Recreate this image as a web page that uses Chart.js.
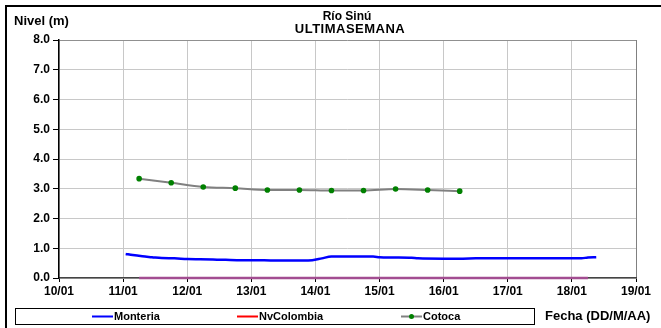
<!DOCTYPE html>
<html lang="es">
<head>
    <meta charset="UTF-8">
    <title>Río Sinú - Ultima semana</title>
    <style>
        body {
            margin: 0;
            padding: 0;
            background-color: #fff;
        }

        .chart-container {
            position: relative;
            width: 661px;
            height: 328px;
        }
    </style>
    <script src="https://cdn.jsdelivr.net/npm/chart.js"></script>
</head>
<body>
    <div class="chart-container">
        <canvas id="nivelChart" width="661" height="328"></canvas>
    </div>

    <script>
        // Datos (dia de enero, nivel en m)
        const fechas = ['10/01', '11/01', '12/01', '13/01', '14/01', '15/01', '16/01', '17/01', '18/01', '19/01'];

        const monteriaDias = [11.04, 11.15, 11.3, 11.45, 11.6, 11.8, 12.0, 12.2, 12.4, 12.6, 12.85, 13.1, 13.3, 13.5, 13.8, 13.95, 14.1, 14.25, 14.5, 14.9, 15.0, 15.2, 15.5, 15.6, 16.0, 16.3, 16.5, 17.0, 17.5, 18.0, 18.15, 18.25, 18.38];
        const monteriaNivel = [0.81, 0.77, 0.73, 0.70, 0.67, 0.66, 0.64, 0.63, 0.62, 0.61, 0.60, 0.60, 0.59, 0.59, 0.59, 0.60, 0.66, 0.72, 0.72, 0.72, 0.70, 0.69, 0.68, 0.66, 0.65, 0.65, 0.66, 0.66, 0.66, 0.66, 0.66, 0.69, 0.70];

        const nvColombiaDias = [11.25, 18.25];
        const nvColombiaNivel = [0, 0];

        const cotocaDias = [11.25, 11.75, 12.25, 12.75, 13.25, 13.75, 14.25, 14.75, 15.25, 15.75, 16.25];
        const cotocaNivel = [3.34, 3.20, 3.06, 3.02, 2.96, 2.96, 2.94, 2.94, 2.99, 2.96, 2.92];

        const FUENTE = "'Liberation Sans', Arial, sans-serif";

        function puntos(dias, niveles) {
            return dias.map((d, i) => ({ x: d, y: niveles[i] }));
        }

        // Marco, titulos y leyenda dibujados a mano (estilo Excel)
        const decoracion = {
            id: 'decoracion',
            afterDraw(chart) {
                const ctx = chart.ctx;
                ctx.save();

                // marco exterior
                ctx.fillStyle = '#000';
                ctx.fillRect(5, 5, 2, 323);
                ctx.fillRect(5, 5, 656, 2);

                ctx.textBaseline = 'middle';
                ctx.fillStyle = '#000';

                ctx.font = 'bold 13px ' + FUENTE;
                ctx.textAlign = 'left';
                ctx.fillText('Nivel (m)', 14, 21);

                ctx.textAlign = 'center';
                ctx.font = 'bold 12px ' + FUENTE;
                ctx.fillText('Río Sinú', 347, 17);
                ctx.font = 'bold 13px ' + FUENTE;
                ctx.letterSpacing = '0.5px';
                ctx.fillText('ULTIMASEMANA', 350, 29);
                ctx.letterSpacing = '0px';

                ctx.textAlign = 'left';
                ctx.font = 'bold 13px ' + FUENTE;
                ctx.fillText('Fecha (DD/M/AA)', 545, 316);

                // caja de leyenda
                ctx.strokeStyle = '#000';
                ctx.lineWidth = 1;
                ctx.strokeRect(15.5, 308.5, 519, 16);

                const items = [
                    { texto: chart.data.datasets[0].label, color: '#0000ff', x: 92 },
                    { texto: chart.data.datasets[1].label, color: '#ff0000', x: 237 },
                    { texto: chart.data.datasets[2].label, color: '#808080', x: 401, marca: '#008000' }
                ];
                ctx.font = 'bold 11px ' + FUENTE;
                items.forEach(it => {
                    ctx.strokeStyle = it.color;
                    ctx.lineWidth = 2;
                    ctx.beginPath();
                    ctx.moveTo(it.x, 316.5);
                    ctx.lineTo(it.x + 21, 316.5);
                    ctx.stroke();
                    if (it.marca) {
                        ctx.fillStyle = it.marca;
                        ctx.beginPath();
                        ctx.arc(it.x + 10.5, 316.5, 2.5, 0, Math.PI * 2);
                        ctx.fill();
                    }
                    ctx.fillStyle = '#000';
                    ctx.fillText(it.texto, it.x + 22, 317);
                });

                ctx.restore();
            }
        };

        const ctx = document.getElementById('nivelChart').getContext('2d');
        new Chart(ctx, {
            type: 'line',
            data: {
                datasets: [{
                    label: 'Monteria',
                    data: puntos(monteriaDias, monteriaNivel),
                    borderColor: '#0000ff',
                    borderWidth: 2.5,
                    pointRadius: 0,
                    cubicInterpolationMode: 'monotone',
                    order: 2
                }, {
                    label: 'NvColombia',
                    data: puntos(nvColombiaDias, nvColombiaNivel),
                    borderColor: '#a24d91',
                    borderWidth: 2.5,
                    pointRadius: 0,
                    clip: 5,
                    order: 1
                }, {
                    label: 'Cotoca',
                    data: puntos(cotocaDias, cotocaNivel),
                    borderColor: '#808080',
                    borderWidth: 2,
                    pointRadius: 2.8,
                    pointBackgroundColor: '#008000',
                    pointBorderColor: '#008000',
                    pointBorderWidth: 0,
                    cubicInterpolationMode: 'monotone',
                    order: 0
                }]
            },
            options: {
                responsive: false,
                animation: false,
                layout: {
                    padding: { top: 40, right: 25, bottom: 0, left: 0 }
                },
                plugins: {
                    legend: { display: false },
                    title: { display: false },
                    tooltip: { enabled: false }
                },
                scales: {
                    x: {
                        type: 'linear',
                        min: 10,
                        max: 19,
                        afterFit: scale => { scale.height = 50; },
                        ticks: {
                            stepSize: 1,
                            color: '#000',
                            font: { family: FUENTE, size: 12, weight: 'bold' },
                            padding: 2,
                            maxRotation: 0,
                            callback: v => fechas[v - 10]
                        },
                        grid: {
                            color: c => (c.tick && c.tick.value === 19) ? '#808080' : '#c8c8c8',
                            tickColor: '#000',
                            tickLength: 4
                        },
                        border: { color: '#444', width: 1.5 }
                    },
                    y: {
                        min: 0,
                        max: 8,
                        afterFit: scale => { scale.width = 59; },
                        ticks: {
                            stepSize: 0.5,
                            color: '#000',
                            font: { family: FUENTE, size: 12, weight: 'bold' },
                            padding: 3,
                            callback: v => Number.isInteger(v) ? v.toFixed(1) : ''
                        },
                        grid: {
                            color: c => {
                                const v = c.tick ? c.tick.value : 0;
                                if (v === 8) return '#909090';
                                return Number.isInteger(v) ? '#c8c8c8' : '#dedede';
                            },
                            lineWidth: c => (c.tick && !Number.isInteger(c.tick.value)) ? 1.5 : 1,
                            tickColor: c => (c.tick && Number.isInteger(c.tick.value)) ? '#000' : 'rgba(0,0,0,0)',
                            tickLength: 6
                        },
                        border: { color: '#000', width: 1.5 }
                    }
                }
            },
            plugins: [decoracion]
        });
    </script>
</body>
</html>
